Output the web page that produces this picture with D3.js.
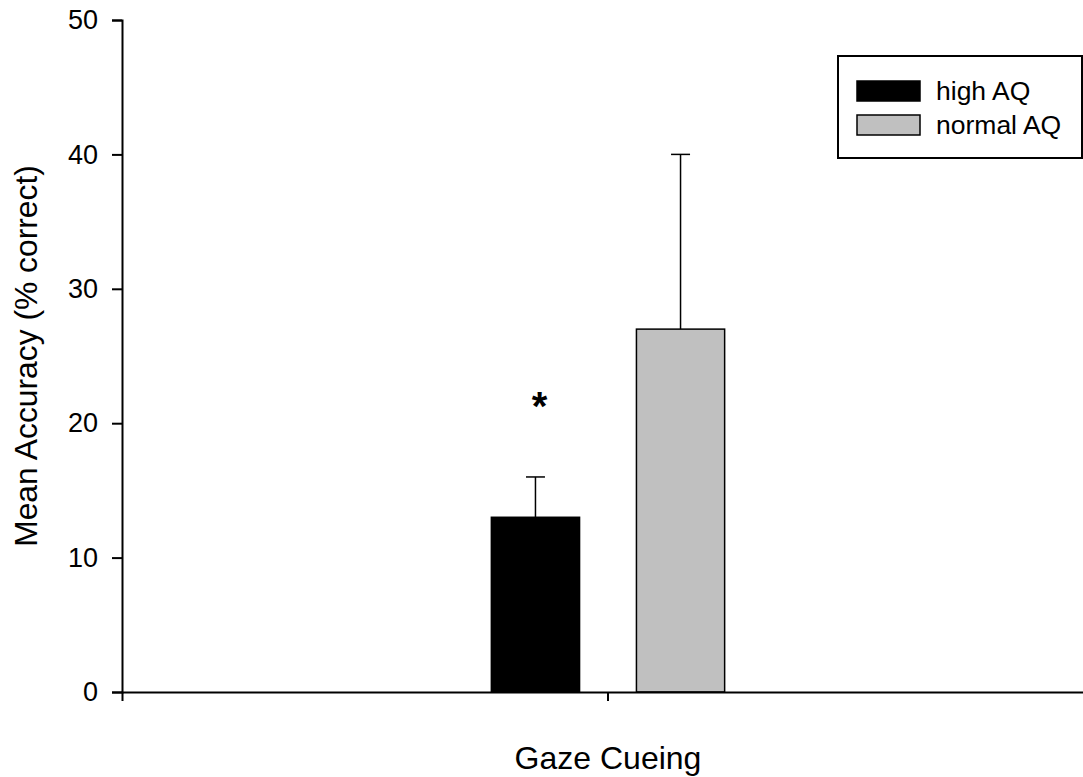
<!DOCTYPE html>
<html>
<head>
<meta charset="utf-8">
<script src="https://cdn.jsdelivr.net/npm/d3@7"></script>
<style>
  html, body { margin: 0; padding: 0; background: #fff; }
  svg { display: block; font-family: "Liberation Sans", Arial, sans-serif; }
</style>
</head>
<body>
<svg id="chart" width="1083" height="777"></svg>
<script>
// Conditions on the x axis
const categories = ["Gaze Cueing"];
// Groups shown side by side within each condition
const groups = ["high AQ", "normal AQ"];
// Mean accuracy (% correct) per group
const means = [13, 27];
// Upper error (SE) per group
const errors = [3, 13];
// Y-axis tick values
const yTicks = [0, 10, 20, 30, 40, 50];
// Bar fills per group
const fills = ["#000000", "#c0c0c0"];
// Significance marker above a group
const markers = ["*", ""];

const svg = d3.select("#chart");
const margin = { left: 122, right: -11, top: 20, bottom: 85 };
const W = 1083, H = 777;

const y = d3.scaleLinear()
  .domain([0, 50])
  .range([H - margin.bottom, margin.top]);

const x = d3.scaleBand()
  .domain(categories)
  .range([margin.left, W - margin.right])
  .paddingInner(0)
  .paddingOuter(0);

const xGroup = d3.scaleBand()
  .domain(groups)
  .range([x.bandwidth() * 0.38, x.bandwidth() * 0.62])
  .paddingInner(0.392)
  .paddingOuter(0);

const data = groups.map((g, i) => ({
  cat: categories[0], group: g, value: means[i], err: errors[i],
  fill: fills[i], marker: markers[i]
}));

// Bars
const bars = svg.append("g");
bars.selectAll("rect")
  .data(data)
  .join("rect")
  .attr("x", d => x(d.cat) + xGroup(d.group))
  .attr("y", d => y(d.value))
  .attr("width", xGroup.bandwidth())
  .attr("height", d => y(0) - y(d.value))
  .attr("fill", d => d.fill)
  .attr("stroke", "#000")
  .attr("stroke-width", 1.5);

// Upper error bars
const capHalf = 9.5;
const eb = svg.append("g").attr("stroke", "#000").attr("stroke-width", 1.5);
data.forEach(d => {
  const cx = x(d.cat) + xGroup(d.group) + xGroup.bandwidth() / 2;
  eb.append("line")
    .attr("x1", cx).attr("x2", cx)
    .attr("y1", y(d.value)).attr("y2", y(d.value + d.err));
  eb.append("line")
    .attr("x1", cx - capHalf).attr("x2", cx + capHalf)
    .attr("y1", y(d.value + d.err)).attr("y2", y(d.value + d.err));
});

// Significance markers
svg.append("g").selectAll("text")
  .data(data.filter(d => d.marker))
  .join("text")
  .attr("x", d => x(d.cat) + xGroup(d.group) + xGroup.bandwidth() / 2 + 4)
  .attr("y", d => y(d.value + d.err + 6) + 24)
  .attr("text-anchor", "middle")
  .attr("font-size", 40)
  .attr("font-weight", "bold")
  .text(d => d.marker);

// Y axis
const yAxis = d3.axisLeft(y)
  .tickValues(yTicks)
  .tickSize(10)
  .tickSizeOuter(10)
  .tickPadding(14);
const gy = svg.append("g")
  .attr("transform", `translate(${margin.left},0)`)
  .call(yAxis);
gy.select(".domain").attr("stroke-width", 2);
gy.selectAll(".tick line").attr("stroke-width", 2);
gy.selectAll(".tick text")
  .attr("font-size", 27)
  .attr("font-family", "'Liberation Sans', Arial, sans-serif")
  .attr("fill", "#000");

// X axis
const xAxis = d3.axisBottom(x)
  .tickSize(9)
  .tickSizeOuter(9)
  .tickFormat("");
const gx = svg.append("g")
  .attr("transform", `translate(0,${y(0)})`)
  .call(xAxis);
gx.select(".domain").attr("stroke-width", 2);
gx.selectAll(".tick line").attr("stroke-width", 2);

// Axis titles
svg.append("text")
  .attr("x", x(categories[0]) + x.bandwidth() / 2)
  .attr("y", 769)
  .attr("text-anchor", "middle")
  .attr("font-size", 32)
  .text(categories[0]);

svg.append("text")
  .attr("transform", `translate(37,${(y(0) + y(50)) / 2}) rotate(-90)`)
  .attr("text-anchor", "middle")
  .attr("font-size", 31.8)
  .text("Mean Accuracy (% correct)");

// Legend
const leg = svg.append("g").attr("transform", "translate(838,56)");
leg.append("rect")
  .attr("x", 0).attr("y", 0)
  .attr("width", 244).attr("height", 102)
  .attr("fill", "#fff")
  .attr("stroke", "#000")
  .attr("stroke-width", 2);
groups.forEach((g, i) => {
  const row = leg.append("g").attr("transform", `translate(19,${25 + i * 34})`);
  row.append("rect")
    .attr("x", 0).attr("y", 0)
    .attr("width", 63).attr("height", 20)
    .attr("fill", fills[i])
    .attr("stroke", "#000")
    .attr("stroke-width", 1.5);
  row.append("text")
    .attr("x", 79).attr("y", 18.5)
    .attr("font-size", 26.5)
    .text(g);
});
</script>
</body>
</html>
